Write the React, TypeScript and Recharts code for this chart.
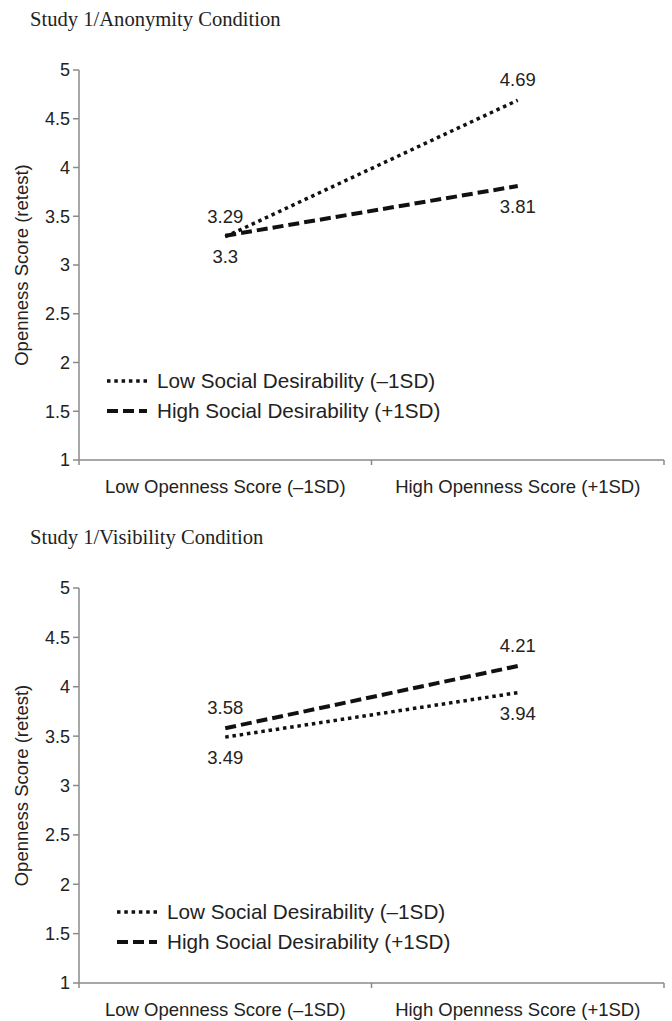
import React from 'react';
import { LineChart, Line, XAxis, YAxis, Legend, LabelList } from 'recharts';

// ---- data ----
const CATEGORIES = ['Low Openness Score (–1SD)', 'High Openness Score (+1SD)'];
const Y_TICKS = [1, 1.5, 2, 2.5, 3, 3.5, 4, 4.5, 5];
const Y_LABEL = 'Openness Score (retest)';
const SERIES_NAMES = ['Low Social Desirability (–1SD)', 'High Social Desirability (+1SD)'];

const ANON_TITLE = 'Study 1/Anonymity Condition';
const ANON_LOW_SD = [3.29, 4.69];
const ANON_HIGH_SD = [3.3, 3.81];

const VIS_TITLE = 'Study 1/Visibility Condition';
const VIS_LOW_SD = [3.49, 3.94];
const VIS_HIGH_SD = [3.58, 4.21];

// ---- styles ----
const SANS = '"Liberation Sans", Arial, Helvetica, sans-serif';
const SERIF = '"Liberation Serif", "Times New Roman", serif';
const FS = 18.5;
const TICK_FS = 18;
const LEGEND_FS = 20.7;
const TEXT = '#222';
const AXIS = '#8a8a8a';
const LINE = '#111';
const LOW_W = 3.5;
const HIGH_W = 4;
const LOW_DASH = '3.5 3.8';
const HIGH_DASH = '11 5';
const TS = 5;
const TM = 15;

// x tick values: boundaries (integers) and category centres (halves)
const X_TICKS: number[] = [];
for (let i = 0; i <= CATEGORIES.length; i++) {
  X_TICKS.push(i);
  if (i < CATEGORIES.length) X_TICKS.push(i + 0.5);
}

const XTick = (props: any) => {
  const { x, y, payload } = props;
  const v = payload.value;
  if (Number.isInteger(v)) {
    const ay = y - TS - TM;
    return <line x1={x} x2={x} y1={ay} y2={ay + TS} stroke={AXIS} strokeWidth={1.5} />;
  }
  return (
    <text x={x} y={y} dy="0.71em" textAnchor="middle" fill={TEXT} fontSize={FS} fontFamily={SANS}>
      {CATEGORIES[Math.floor(v)]}
    </text>
  );
};

const YLabel = (props: any) => {
  const vb = props.viewBox || { x: 0, y: 0, width: 79, height: 390 };
  const cx = vb.x + 28;
  const cy = vb.y + vb.height / 2;
  return (
    <text transform={`translate(${cx}, ${cy}) rotate(-90)`} textAnchor="middle" fill={TEXT} fontSize={FS} fontFamily={SANS}>
      {Y_LABEL}
    </text>
  );
};

const LegendContent = () => (
  <div style={{ display: 'flex', flexDirection: 'column', fontFamily: SANS }}>
    {SERIES_NAMES.map((name, i) => (
      <div key={name} style={{ display: 'flex', alignItems: 'center', height: 30 }}>
        <svg width={40} height={10} style={{ display: 'block' }}>
          <line x1={0} x2={40} y1={5} y2={5} stroke={LINE} strokeWidth={i === 0 ? LOW_W : HIGH_W} strokeDasharray={i === 0 ? LOW_DASH : HIGH_DASH} />
        </svg>
        <span style={{ marginLeft: 10, fontSize: LEGEND_FS, color: TEXT, whiteSpace: 'nowrap', lineHeight: '22px' }}>{name}</span>
      </div>
    ))}
  </div>
);

type PanelProps = {
  top: number;
  title: string;
  low: number[];
  high: number[];
  lowPos: 'top' | 'bottom';
  highPos: 'top' | 'bottom';
  chartH: number;
  xAxisH: number;
  legendLeft: number;
  legendTop: number;
};

const Panel = (p: PanelProps) => {
  const data = CATEGORIES.map((c, i) => ({ x: i + 0.5, category: c, low: p.low[i], high: p.high[i] }));
  return (
    <div style={{ position: 'absolute', left: 0, top: p.top, width: 672, height: p.chartH }}>
      <div style={{ position: 'absolute', left: 30, top: 10, fontFamily: SERIF, fontSize: 20.6, lineHeight: '18px', color: TEXT, whiteSpace: 'nowrap', zIndex: 2 }}>
        {p.title}
      </div>
      <LineChart width={672} height={p.chartH} data={data} margin={{ top: 70, right: 8, bottom: 0, left: 0 }} style={{ fontFamily: SANS }}>
        <XAxis
          dataKey="x"
          type="number"
          domain={[0, CATEGORIES.length]}
          ticks={X_TICKS}
          interval={0}
          height={p.xAxisH}
          tickSize={TS}
          tickMargin={TM}
          tickLine={false}
          axisLine={{ stroke: AXIS, strokeWidth: 1.5 }}
          tick={XTick}
        />
        <YAxis
          type="number"
          domain={[1, 5]}
          ticks={Y_TICKS}
          interval={0}
          width={79}
          tickSize={6}
          tickMargin={3}
          axisLine={{ stroke: AXIS, strokeWidth: 1.5 }}
          tickLine={{ stroke: AXIS, strokeWidth: 1.5 }}
          tick={{ fill: TEXT, fontSize: TICK_FS, fontFamily: SANS }}
          label={{ content: YLabel }}
        />
        <Legend
          layout="vertical"
          align="center"
          verticalAlign="middle"
          content={LegendContent}
          wrapperStyle={{ left: p.legendLeft, top: p.legendTop, width: 'auto', height: 'auto' }}
        />
        <Line
          dataKey="low"
          name={SERIES_NAMES[0]}
          type="linear"
          stroke={LINE}
          strokeWidth={LOW_W}
          strokeDasharray={LOW_DASH}
          dot={false}
          activeDot={false}
          isAnimationActive={false}
        >
          <LabelList dataKey="low" position={p.lowPos} offset={14} fill={TEXT} fontSize={FS} fontFamily={SANS} />
        </Line>
        <Line
          dataKey="high"
          name={SERIES_NAMES[1]}
          type="linear"
          stroke={LINE}
          strokeWidth={HIGH_W}
          strokeDasharray={HIGH_DASH}
          dot={false}
          activeDot={false}
          isAnimationActive={false}
        >
          <LabelList dataKey="high" position={p.highPos} offset={14} fill={TEXT} fontSize={FS} fontFamily={SANS} />
        </Line>
      </LineChart>
    </div>
  );
}

export default function App() {
  return (
    <div style={{ position: 'absolute', left: 0, top: 0, width: 672, height: 1021, background: '#fff', overflow: 'hidden' }}>
      <Panel top={0} title={ANON_TITLE} low={ANON_LOW_SD} high={ANON_HIGH_SD} lowPos="top" highPos="bottom" chartH={515} xAxisH={55} legendLeft={107} legendTop={366} />
      <Panel top={518} title={VIS_TITLE} low={VIS_LOW_SD} high={VIS_HIGH_SD} lowPos="bottom" highPos="top" chartH={503} xAxisH={38} legendLeft={117} legendTop={379} />
    </div>
  );
}
